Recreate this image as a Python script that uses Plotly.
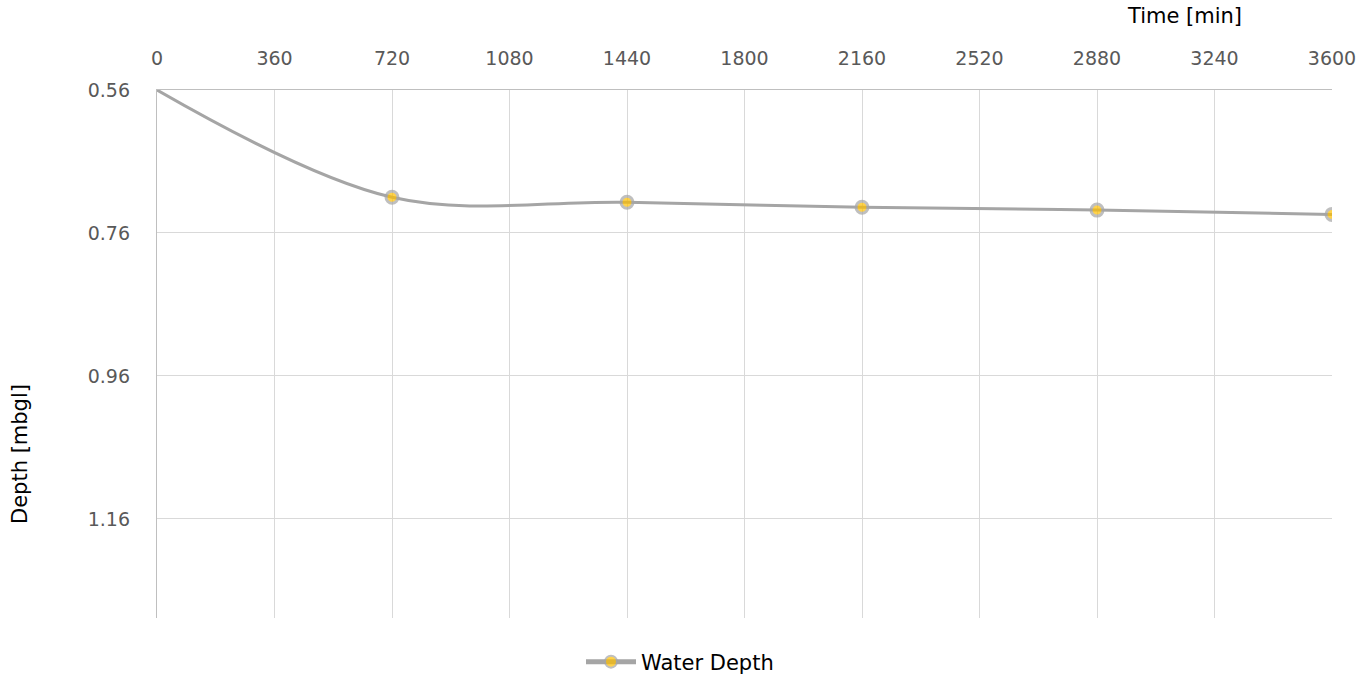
import plotly.graph_objects as go

# Water depth readings over time
time_min = [0, 720, 1440, 2160, 2880, 3600]
depth_mbgl = [0.56, 0.710, 0.717, 0.724, 0.728, 0.734]
marker_sizes = [0, 12, 12, 12, 12, 12]

x_ticks = [0, 360, 720, 1080, 1440, 1800, 2160, 2520, 2880, 3240, 3600]
y_ticks = [0.56, 0.76, 0.96, 1.16]

FONT = "DejaVu Sans, Verdana, sans-serif"
TICK_COLOR = "#595959"

fig = go.Figure()
fig.add_trace(go.Scatter(
    x=time_min,
    y=depth_mbgl,
    mode="lines+markers",
    name="Water Depth",
    line=dict(color="#a5a5a5", width=3, shape="spline", smoothing=1.0),
    marker=dict(size=marker_sizes, color="#ffc000",
                line=dict(color="#a5a5a5", width=3)),
))

fig.update_layout(
    width=1360, height=675,
    margin=dict(l=157, r=28, t=90, b=57, autoexpand=False),
    paper_bgcolor="white", plot_bgcolor="white",
    font=dict(family=FONT, size=19, color=TICK_COLOR),
    showlegend=True,
    legend=dict(orientation="h", xref="container", x=0.5, xanchor="center",
                yref="container", y=(675 - 662) / 675, yanchor="middle",
                font=dict(family=FONT, size=21, color="#000000"),
                itemsizing="constant", itemwidth=50),
)

fig.update_xaxes(
    side="top", range=[0, 3600], tickvals=x_ticks,
    ticktext=[str(v) for v in x_ticks],
    showgrid=True, gridcolor="#d9d9d9", gridwidth=1.3,
    showline=True, linecolor="#bfbfbf", linewidth=1.3,
    zeroline=False, ticks="", ticklabelstandoff=16, automargin=False,
    tickfont=dict(family=FONT, size=19, color=TICK_COLOR),
)
fig.update_yaxes(
    range=[1.2985, 0.56], tickvals=y_ticks,
    ticktext=[f"{v:.2f}" for v in y_ticks],
    showgrid=True, gridcolor="#d9d9d9", gridwidth=1.3,
    showline=True, linecolor="#bfbfbf", linewidth=1.3,
    zeroline=False, ticks="", ticklabelstandoff=22, automargin=False,
    tickfont=dict(family=FONT, size=19, color=TICK_COLOR),
)

fig.add_annotation(text="Time [min]", xref="paper", yref="paper",
                   x=(1184 - 157) / 1175, y=1 + (90 - 16) / 528,
                   xanchor="center", yanchor="middle", showarrow=False,
                   font=dict(family=FONT, size=21, color="#000000"))
fig.add_annotation(text="Depth [mbgl]", xref="paper", yref="paper",
                   x=(20 - 157) / 1175, y=1 - (454 - 90) / 528,
                   xanchor="center", yanchor="middle", textangle=-90,
                   showarrow=False,
                   font=dict(family=FONT, size=21, color="#000000"))

fig.write_html("out.html")
